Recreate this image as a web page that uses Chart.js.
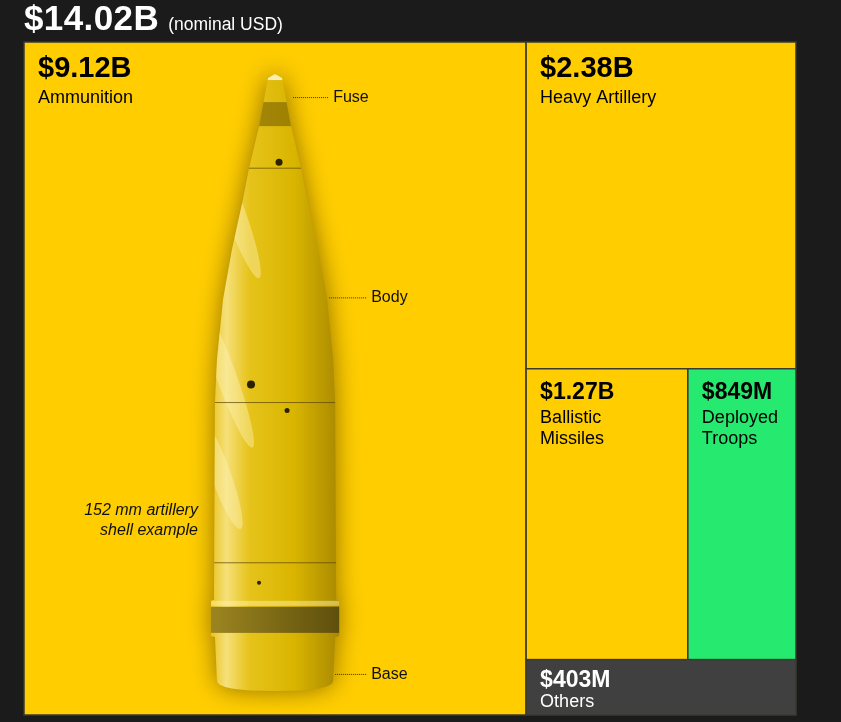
<!DOCTYPE html>
<html>
<head>
<meta charset="utf-8">
<title>Spending treemap</title>
<script src="https://cdn.jsdelivr.net/npm/chart.js@4.4.1/dist/chart.umd.min.js"></script>
<style>
  html, body { margin: 0; padding: 0; background: #1b1b1b; }
  #wrap { position: relative; width: 841px; height: 722px; overflow: hidden; }
  #headline {
    position: absolute; left: 24px; top: 0px; line-height: 36px;
    color: #fff; font-family: "Liberation Sans", Arial, sans-serif; white-space: nowrap;
  }
  #headline .total { font-size: 35px; font-weight: bold; letter-spacing: 0.4px; }
  #headline .unit { font-size: 17.5px; margin-left: 9px; }
  canvas { position: absolute; left: 0; top: 0; }
</style>
</head>
<body>
<div id="wrap">
  <canvas id="treemap" width="841" height="722"></canvas>
  <div id="headline"><span class="total" id="total"></span><span class="unit">(nominal USD)</span></div>
</div>
<script>
// Spending by category, billions of nominal USD (largest first)
const categories = ['Ammunition', 'Heavy Artillery', 'Ballistic Missiles', 'Deployed Troops', 'Others'];
const spending = [9.12, 2.38, 1.27, 0.849, 0.403];

// label lines shown inside each cell
const cellLabels = [['Ammunition'], ['Heavy Artillery'], ['Ballistic', 'Missiles'], ['Deployed', 'Troops'], ['Others']];

const cellColors = {
  'Ammunition': '#ffcd00',
  'Heavy Artillery': '#ffcd00',
  'Ballistic Missiles': '#ffcd00',
  'Deployed Troops': '#26e96f',
  'Others': '#404040'
};

const FONT = '"Liberation Sans", Arial, sans-serif';

function formatUsd(v) {
  if (v >= 1) return '$' + v.toFixed(2) + 'B';
  return '$' + Math.round(v * 1000) + 'M';
}

// squarified layout (golden ratio), values must be sorted descending
function squarify(values, x0, y0, x1, y1) {
  const ratio = (1 + Math.sqrt(5)) / 2;
  const rects = [];
  const n = values.length;
  let value = values.reduce((a, b) => a + b, 0);
  let i0 = 0;

  while (i0 < n) {
    const dx = x1 - x0, dy = y1 - y0;
    let i1 = i0;
    let sum = values[i1++];
    let minV = sum, maxV = sum;
    const alpha = Math.max(dy / dx, dx / dy) / (value * ratio);
    let minRatio = Math.max(maxV / (sum * sum * alpha), (sum * sum * alpha) / minV);

    for (; i1 < n; i1++) {
      const v = values[i1];
      const s = sum + v;
      const mn = Math.min(minV, v), mx = Math.max(maxV, v);
      const beta = s * s * alpha;
      const r = Math.max(mx / beta, beta / mn);
      if (r > minRatio) break;
      sum = s; minV = mn; maxV = mx; minRatio = r;
    }

    if (dx < dy) {
      // row laid across the top
      const h = dy * sum / value;
      let x = x0;
      for (let k = i0; k < i1; k++) {
        const w = dx * values[k] / sum;
        rects[k] = { x0: x, y0: y0, x1: x + w, y1: y0 + h };
        x += w;
      }
      y0 += h;
    } else {
      // column laid down the left side
      const w = dx * sum / value;
      let y = y0;
      for (let k = i0; k < i1; k++) {
        const h = dy * values[k] / sum;
        rects[k] = { x0: x0, y0: y, x1: x0 + w, y1: y + h };
        y += h;
      }
      x0 += w;
    }
    value -= sum;
    i0 = i1;
  }
  return rects;
}

// Illustration of a 152 mm shell inside the ammunition cell
function drawShell(ctx, cx, top, s) {
  const P = (dx, dy) => [cx + dx * s, top + dy * s];
  // half widths down the profile
  const profile = [
    [36, 7], [84, 16], [126, 26], [157, 32], [207, 43], [257, 52], [317, 58], [360, 60],
    [557, 61], [558, 64], [593, 64], [594, 60], [638, 58]
  ];

  ctx.save();
  ctx.beginPath();
  let p = P(0, 32);
  ctx.moveTo(p[0], p[1]);
  profile.forEach(([dy, hw]) => { const q = P(hw, dy); ctx.lineTo(q[0], q[1]); });
  p = P(0, 648);
  ctx.quadraticCurveTo(cx + 58 * s, top + 648 * s, p[0], p[1]);
  ctx.quadraticCurveTo(cx - 58 * s, top + 648 * s, cx - 58 * s, top + 638 * s);
  for (let i = profile.length - 1; i >= 0; i--) {
    const q = P(-profile[i][1], profile[i][0]);
    ctx.lineTo(q[0], q[1]);
  }
  ctx.closePath();

  const g = ctx.createLinearGradient(cx - 64 * s, 0, cx + 64 * s, 0);
  g.addColorStop(0, '#e9c420');
  g.addColorStop(0.12, '#f6e07a');
  g.addColorStop(0.3, '#e6c31a');
  g.addColorStop(0.65, '#d9b500');
  g.addColorStop(1, '#a98900');
  ctx.shadowColor = 'rgba(70, 50, 0, 0.6)';
  ctx.shadowBlur = 24 * s;
  ctx.fillStyle = g;
  ctx.fill();
  ctx.shadowColor = 'transparent';
  ctx.clip();

  // fuse darker ring
  ctx.fillStyle = 'rgba(110, 85, 0, 0.55)';
  ctx.fillRect(cx - 20 * s, top + 60 * s, 40 * s, 24 * s);
  ctx.fillStyle = 'rgba(255, 250, 220, 0.8)';
  ctx.fillRect(cx - 10 * s, top + 32 * s, 20 * s, 6 * s);

  // rotating band
  const bg = ctx.createLinearGradient(cx - 64 * s, 0, cx + 64 * s, 0);
  bg.addColorStop(0, '#9c8520');
  bg.addColorStop(0.5, '#7d6a16');
  bg.addColorStop(1, '#5e4f0c');
  ctx.fillStyle = bg;
  ctx.fillRect(cx - 66 * s, top + 564 * s, 132 * s, 26 * s);
  ctx.fillStyle = 'rgba(255, 240, 160, 0.5)';
  ctx.fillRect(cx - 66 * s, top + 558 * s, 132 * s, 5 * s);

  // highlight streaks on the left
  ctx.fillStyle = 'rgba(255, 246, 190, 0.4)';
  [[-40, 170, 70], [-50, 330, 80], [-55, 430, 60]].forEach(([dx, dy, h]) => {
    ctx.beginPath();
    ctx.ellipse(cx + dx * s, top + dy * s, 10 * s, h * s, -0.35, 0, Math.PI * 2);
    ctx.fill();
  });

  // seams
  ctx.strokeStyle = 'rgba(90, 70, 0, 0.7)';
  ctx.lineWidth = 1;
  [[126, 26], [360, 60], [520, 61]].forEach(([dy, hw]) => {
    ctx.beginPath();
    ctx.moveTo(cx - hw * s, top + dy * s);
    ctx.lineTo(cx + hw * s, top + dy * s);
    ctx.stroke();
  });

  // rivet dots
  ctx.fillStyle = '#2a2200';
  [[4, 120, 3.5], [-24, 342, 4], [12, 368, 2.5], [-16, 540, 2]].forEach(([dx, dy, r]) => {
    ctx.beginPath();
    ctx.arc(cx + dx * s, top + dy * s, r * s, 0, Math.PI * 2);
    ctx.fill();
  });
  ctx.restore();

  // annotations
  ctx.save();
  ctx.fillStyle = '#111';
  ctx.strokeStyle = '#333';
  ctx.lineWidth = 1;
  ctx.setLineDash([1, 1]);
  ctx.font = '16px ' + FONT;
  ctx.textBaseline = 'alphabetic';
  [['Fuse', 18, 53, 55, 58, 60], ['Body', 54, 92, 255, 96, 260], ['Base', 60, 92, 631, 96, 636]]
    .forEach(([txt, l0, l1, ly, tx, ty]) => {
      ctx.beginPath();
      ctx.moveTo(cx + l0 * s, top + ly * s + 0.5);
      ctx.lineTo(cx + l1 * s, top + ly * s + 0.5);
      ctx.stroke();
      ctx.textAlign = 'left';
      ctx.fillText(txt, cx + tx * s, top + ty * s);
    });
  ctx.font = 'italic 16px ' + FONT;
  ctx.textAlign = 'right';
  ctx.fillText('152 mm artillery', cx - 77 * s, top + 472 * s);
  ctx.fillText('shell example', cx - 77 * s, top + 492 * s);
  ctx.restore();
}

const treemapPlugin = {
  id: 'treemapCells',
  beforeDatasetsDraw(chart) {
    const { ctx, chartArea: area, scales: { x, y } } = chart;
    const aspect = (area.right - area.left) / (area.bottom - area.top);
    const rects = squarify(spending, 0, 0, aspect, 1);

    rects.forEach((r, i) => {
      const left = x.getPixelForValue(r.x0 / aspect);
      const right = x.getPixelForValue(r.x1 / aspect);
      const top = y.getPixelForValue(r.y0);
      const bottom = y.getPixelForValue(r.y1);
      const w = right - left, h = bottom - top;
      const name = categories[i];

      ctx.save();
      ctx.fillStyle = cellColors[name];
      ctx.fillRect(left, top, w, h);
      ctx.strokeStyle = '#3a3a32';
      ctx.lineWidth = 1.5;
      ctx.strokeRect(left, top, w, h);
      ctx.restore();

      if (i === 0) drawShell(ctx, (left + right) / 2, top, h / 672);

      // bigger type in the big cells
      const big = Math.min(w, h) > 200;
      const valueSize = big ? 29 : 23;
      const valueBase = top + (h < 80 ? 11 : 14) + Math.round(valueSize * 0.716);
      const labelGap = big ? 26 : (h < 80 ? 20 : 24);

      ctx.save();
      ctx.fillStyle = name === 'Others' ? '#fff' : '#000';
      ctx.textAlign = 'left';
      ctx.textBaseline = 'alphabetic';
      ctx.font = 'bold ' + valueSize + 'px ' + FONT;
      const tx = left + 14;
      ctx.fillText(formatUsd(spending[i]), tx, valueBase);
      ctx.font = '18px ' + FONT;
      cellLabels[i].forEach((line, j) => {
        ctx.fillText(line, tx, valueBase + labelGap + j * 21);
      });
      ctx.restore();
    });
  }
};

document.getElementById('total').textContent =
  formatUsd(spending.reduce((a, b) => a + b, 0));

new Chart(document.getElementById('treemap'), {
  type: 'scatter',
  data: {
    labels: categories,
    datasets: [{ label: 'Spending', data: [], pointRadius: 0 }]
  },
  options: {
    responsive: false,
    animation: false,
    layout: { padding: { left: 24, right: 45, top: 42, bottom: 7 } },
    scales: {
      x: { type: 'linear', min: 0, max: 1, display: false },
      y: { type: 'linear', min: 0, max: 1, reverse: true, display: false }
    },
    plugins: { legend: { display: false }, tooltip: { enabled: false } }
  },
  plugins: [treemapPlugin]
});
</script>
</body>
</html>
